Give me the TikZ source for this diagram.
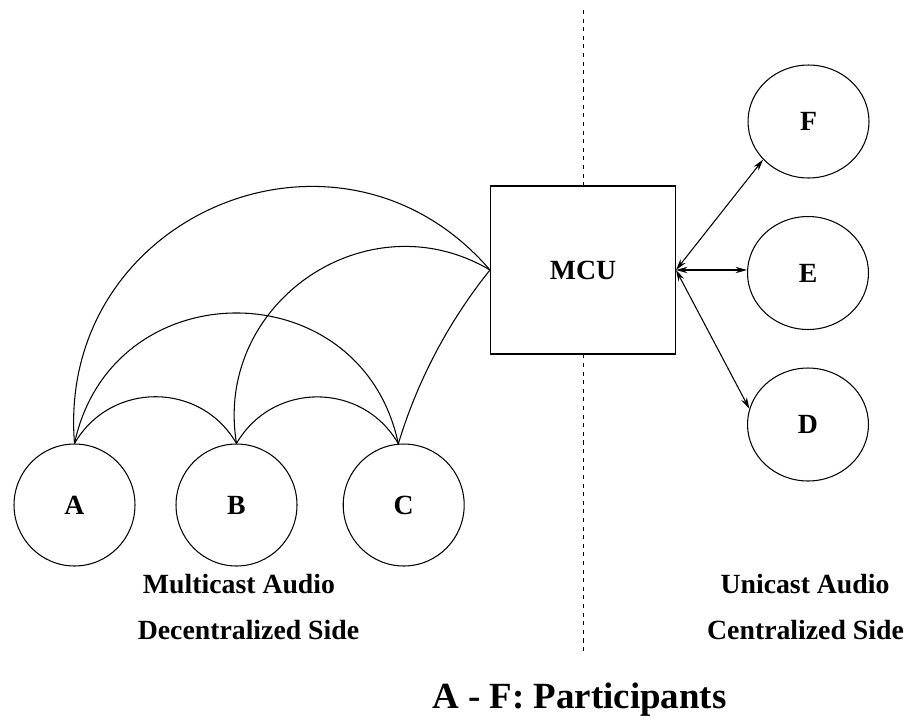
\documentclass[tikz,border=0pt]{standalone}
\usepackage{fontspec}
\setmainfont{Liberation Serif}
\usetikzlibrary{shapes,arrows.meta,positioning,backgrounds}

\begin{document}
\begin{tikzpicture}[x=0.02cm, y=0.02cm, line width=0.6pt,
    font=\fontsize{15.8}{19}\selectfont\bfseries,
    party/.style={ellipse, draw, inner sep=0pt, minimum width=2.42cm, minimum height=2.44cm},
    hub/.style={rectangle, draw, fill=white, minimum width=3.7cm, minimum height=3.36cm},
    duplex/.style={{Stealth[length=6.5pt,width=3.6pt]}-{Stealth[length=6.5pt,width=3.6pt]}}]
  \useasboundingbox (0,0) rectangle (909,-724);

  % Decentralized participants
  \node[party] (A) at (74.5,-505) {A};
  \node[party] (B) at (236.5,-505) {B};
  \node[party] (C) at (403.7,-505) {C};

  % MCU
  \node[hub] (mcu) at (583,-270) {MCU};

  % Centralized participants
  \node[party, minimum height=2.26cm] (F) at (808.5,-121.5) {F};
  \node[party, minimum height=2.26cm] (E) at (808,-273) {E};
  \node[party, minimum height=2.26cm] (D) at (808,-424.5) {D};

  % Divider
  \coordinate (divtop) at (583,-10);
  \coordinate (divbot) at (583,-654);
  \begin{scope}[on background layer]
    \draw[dash pattern=on 2.3pt off 2.6pt] (divtop) -- (divbot);
  \end{scope}

  % Multicast arcs
  \draw (A.north) to[bend left=60, looseness=1.14] (B.north);
  \draw (B.north) to[bend left=60, looseness=1.14] (C.95);
  \draw (A.north) to[bend left=78, looseness=1.41] (C.95);
  \draw (A.north) to[bend left=72, looseness=1.31] (mcu.west);
  \draw (B.north) to[bend left=65, looseness=1.19] (mcu.west);
  \draw (C.95) to[bend left=11, looseness=0.86] (mcu.west);

  % Unicast links
  \draw[duplex] (mcu.east) -- (F.220);
  \draw[duplex] (mcu.east) -- (mcu.east -| E.west);
  \draw[duplex] (mcu.east) -- (D.165);

  % Captions
  \node[anchor=base] (multi) at (239,-593) {Multicast Audio};
  \node[anchor=base] (decent) at (248.5,-639) {Decentralized Side};
  \node[anchor=base] (uni) at (805,-593) {Unicast Audio};
  \node[anchor=base] (cent) at (805.5,-639) {Centralized Side};
  \node[anchor=base, font=\fontsize{21}{25}\selectfont\bfseries] (legend) at (579.5,-708) {A - F: Participants};
\end{tikzpicture}
\end{document}
